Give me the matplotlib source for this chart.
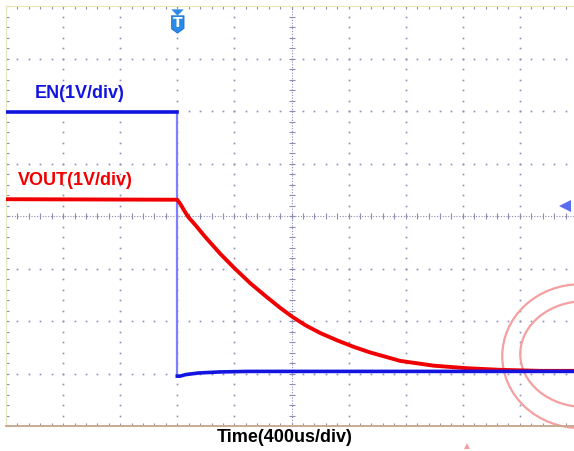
import numpy as np
import matplotlib
matplotlib.use("Agg")
import matplotlib.pyplot as plt
from matplotlib.patches import Ellipse

# time in us relative to trigger, amplitude in screen divisions
t_en_high = [-1200, 0]
en_high = [1.98, 1.98]
t_en_low = [0, 20, 60, 150, 300, 500, 2800]
en_low = [-3.05, -3.05, -3.02, -2.99, -2.97, -2.96, -2.96]

t_vout = [-1200, 0, 21, 49, 77, 126, 196, 301, 399, 511, 616, 721, 806, 897,
          1002, 1121, 1233, 1352, 1562, 1793, 2031, 2263, 2543, 2802]
vout = [0.32, 0.31, 0.23, 0.10, -0.02, -0.17, -0.40, -0.72, -0.99, -1.28,
        -1.52, -1.75, -1.92, -2.08, -2.23, -2.37, -2.49, -2.60, -2.76, -2.85,
        -2.90, -2.93, -2.95, -2.95]

trig_t = 0
trig_level = 0.19

grid_c = "#8c8cb4"
blue = "#1414e0"
red = "#f00000"

fig = plt.figure(figsize=(5.74, 4.52), dpi=100)
ax = fig.add_axes([6 / 574, 25 / 452, 571 / 574, 420 / 452])
ax.set_xlim(-1200, 2800)
ax.set_ylim(-4, 4)

# scope graticule: dotted division lines
xs_sub = np.arange(-1200, 2801, 80)
ys_sub = np.arange(-4, 4.01, 0.2)
for xv in range(-800, 2800, 400):
    if xv == 800:
        continue
    ax.plot([xv] * len(ys_sub), ys_sub, ls="none", marker="s", ms=1.2,
            mew=0, color=grid_c, zorder=1)
for yv in range(-3, 4):
    if yv == 0:
        continue
    ax.plot(xs_sub, [yv] * len(xs_sub), ls="none", marker="s", ms=1.2,
            mew=0, color=grid_c, zorder=1)

# centre crosshair
ax.axvline(800, color=grid_c, lw=0.8, ls=(0, (1, 1.5)), zorder=1)
ax.axhline(0, color=grid_c, lw=0.8, ls=(0, (1, 1.5)), zorder=1)
ax.plot([800] * len(ys_sub), ys_sub, ls="none", marker="_", ms=5, mew=0.8,
        color=grid_c, zorder=1)
ax.plot(xs_sub, [0] * len(xs_sub), ls="none", marker="|", ms=5, mew=0.8,
        color=grid_c, zorder=1)

ax.set_xticks(xs_sub)
ax.set_yticks(ys_sub)
ax.tick_params(direction="in", length=2.5, width=0.8, color=grid_c,
               labelbottom=False, labelleft=False, top=True, right=False)
ax.spines["top"].set_color("#ece6b0")
ax.spines["left"].set_color("#e6e6c0")
ax.spines["bottom"].set_color("#c8aa92")
ax.spines["bottom"].set_linewidth(1.4)
ax.spines["right"].set_visible(False)

# traces
ax.plot(t_vout, vout, color=red, lw=2.8, solid_joinstyle="round", zorder=3)
ax.plot(t_en_high, en_high, color=blue, lw=2.6, zorder=4)
ax.vlines(t_en_low[0], en_low[0], en_high[-1], color="#8080ff", lw=1.6, zorder=2)
ax.plot(t_en_low, en_low, color=blue, lw=2.6, zorder=4)

ax.text(-1002, 2.36, "EN(1V/div)", color=blue, fontsize=13, fontweight="bold",
        family="Liberation Sans", ha="left", va="center")
ax.text(-1114, 0.69, "VOUT(1V/div)", color=red, fontsize=13, fontweight="bold",
        family="Liberation Sans", ha="left", va="center")

# trigger markers
shield = [(-0.75, 1), (0.75, 1), (0.75, -0.45), (0, -1), (-0.75, -0.45)]
flat_tri = [(-1, 0.5), (1, 0.5), (0, -0.5)]
ax.plot(trig_t, 3.89, marker=flat_tri, ms=9, color="#2a8ae8", mew=0, clip_on=False, zorder=5)
ax.plot(trig_t, 3.66, marker=shield, ms=12.5, color="#2a8ae8", mec="#1a6ed0",
        mew=0.6, clip_on=False, zorder=5)
ax.text(trig_t, 3.70, "T", color="white", fontsize=10, fontweight="bold",
        ha="center", va="center", zorder=6)
ax.plot(2718, trig_level, marker="<", ms=8, color="#5a6cf0", mew=0, clip_on=False, zorder=5)

# faint watermark
for cx, cy, w, h in [(2823, -2.67, 1093, 2.74), (2858, -2.63, 911, 2.02)]:
    ax.add_patch(Ellipse((cx, cy), w, h, fill=False, ec="#f4a0a0", lw=1.6,
                         clip_on=False, zorder=2))
ax.plot(2032, -4.38, marker="^", ms=5, color="#f4a0a0", mew=0, clip_on=False)

fig.text(285 / 574, 1 - 438 / 452, "Time(400us/div)", fontsize=13,
         fontweight="bold", family="Liberation Sans", ha="center", va="center")

fig.savefig("out.png", dpi=100)
